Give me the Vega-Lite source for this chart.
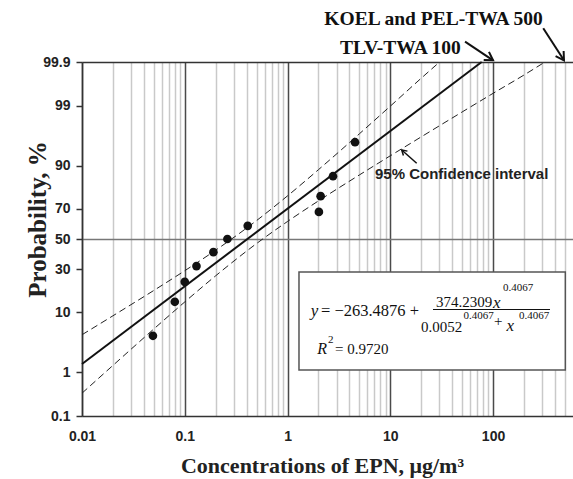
{
  "$schema": "https://vega.github.io/schema/vega-lite/v6.json",
  "width": 491,
  "height": 354,
  "autosize": {"type": "none"},
  "padding": {"left": 82, "top": 62, "right": 0, "bottom": 63},
  "background": "white",
  "config": {"view": {"stroke": null}, "font": "Liberation Sans"},
  "data": {"values": [{}]},
  "datasets": {
    "points": [
      {"conc": 0.049, "prob": 4.55},
      {"conc": 0.080, "prob": 13.64},
      {"conc": 0.10, "prob": 22.73},
      {"conc": 0.13, "prob": 31.82},
      {"conc": 0.19, "prob": 40.91},
      {"conc": 0.26, "prob": 50.0},
      {"conc": 0.41, "prob": 59.09},
      {"conc": 2.02, "prob": 68.18},
      {"conc": 2.10, "prob": 77.27},
      {"conc": 2.77, "prob": 86.36},
      {"conc": 4.54, "prob": 95.45}
    ],
    "fit": [
      {"conc": 0.01, "prob": 1.456},
      {"conc": 77.5, "prob": 99.9}
    ],
    "ci": [
      {"band": "upper", "conc": 0.01, "prob": 4.73},
      {"band": "upper", "conc": 0.02, "prob": 9.0},
      {"band": "upper", "conc": 0.05, "prob": 18.46},
      {"band": "upper", "conc": 0.1, "prob": 28.98},
      {"band": "upper", "conc": 0.2, "prob": 42.27},
      {"band": "upper", "conc": 0.5, "prob": 62.63},
      {"band": "upper", "conc": 1, "prob": 77.43},
      {"band": "upper", "conc": 2, "prob": 88.69},
      {"band": "upper", "conc": 5, "prob": 96.68},
      {"band": "upper", "conc": 10, "prob": 98.98},
      {"band": "upper", "conc": 20, "prob": 99.75},
      {"band": "upper", "conc": 30.2, "prob": 99.9},
      {"band": "lower", "conc": 0.01, "prob": 0.355},
      {"band": "lower", "conc": 0.02, "prob": 1.365},
      {"band": "lower", "conc": 0.05, "prob": 5.81},
      {"band": "lower", "conc": 0.1, "prob": 13.59},
      {"band": "lower", "conc": 0.2, "prob": 26.04},
      {"band": "lower", "conc": 0.5, "prob": 46.85},
      {"band": "lower", "conc": 1, "prob": 62.02},
      {"band": "lower", "conc": 2, "prob": 74.7},
      {"band": "lower", "conc": 5, "prob": 86.82},
      {"band": "lower", "conc": 10, "prob": 92.68},
      {"band": "lower", "conc": 20, "prob": 96.27},
      {"band": "lower", "conc": 50, "prob": 98.67},
      {"band": "lower", "conc": 100, "prob": 99.45},
      {"band": "lower", "conc": 200, "prob": 99.79},
      {"band": "lower", "conc": 320, "prob": 99.9}
    ]
  },
  "layer": [
    {
      "data": {"name": "fit"},
      "transform": [{"calculate": "quantileNormal(datum.prob/100)", "as": "z"}],
      "mark": {"type": "line", "color": "#111", "strokeWidth": 2},
      "encoding": {
        "x": {
          "field": "conc", "type": "quantitative",
          "scale": {"type": "log", "domain": [0.01, 600], "nice": false},
          "axis": {
            "values": [0.01,0.02,0.03,0.04,0.05,0.06,0.07,0.08,0.09,0.1,0.2,0.3,0.4,0.5,0.6,0.7,0.8,0.9,1,2,3,4,5,6,7,8,9,10,20,30,40,50,60,70,80,90,100,200,300,400,500],
            "labelExpr": "datum.value == 0.01 ? '0.01' : datum.value == 0.1 ? '0.1' : datum.value == 1 ? '1' : datum.value == 10 ? '10' : datum.value == 100 ? '100' : ''",
            "labelOverlap": false,
            "labelFlush": false,
            "grid": true,
            "gridColor": {"condition": {"test": "datum.value == 0.01 || datum.value == 0.1 || datum.value == 1 || datum.value == 10 || datum.value == 100", "value": "#4a4a4a"}, "value": "#c9c9c9"},
            "gridWidth": 1.5,
            "ticks": false,
            "domainColor": "#333",
            "domainWidth": 1.5,
            "labelFont": "Liberation Sans",
            "labelFontWeight": "bold",
            "labelFontSize": 14,
            "labelColor": "#222",
            "labelPadding": 13,
            "title": "Concentrations of EPN, μg/m³",
            "titleFont": "Liberation Serif",
            "titleFontSize": 22,
            "titleFontWeight": "bold",
            "titleColor": "#222",
            "titleX": 240,
            "titleY": 56,
            "titleBaseline": "alphabetic"
          }
        },
        "y": {
          "field": "z", "type": "quantitative",
          "scale": {"domain": [-3.0902, 3.0902], "nice": false, "zero": false},
          "axis": {
            "values": [-3.0902, -2.3263, -1.2816, -0.5244, 0, 0.5244, 1.2816, 2.3263, 3.0902],
            "labelExpr": "datum.value < -3 ? '0.1' : datum.value < -2 ? '1' : datum.value < -1 ? '10' : datum.value < -0.3 ? '30' : datum.value < 0.3 ? '50' : datum.value < 1 ? '70' : datum.value < 2 ? '90' : datum.value < 3 ? '99' : '99.9'",
            "labelOverlap": false,
            "labelFlush": false,
            "grid": true,
            "gridColor": {"condition": {"test": "datum.value == 0", "value": "#777"}, "value": "#333"},
            "gridOpacity": {"condition": {"test": "datum.value == 0 || datum.value > 3", "value": 1}, "value": 0},
            "gridWidth": 1.5,
            "tickSize": 6,
            "tickColor": "#333",
            "tickWidth": 1.5,
            "domainColor": "#333",
            "domainWidth": 1.5,
            "labelFont": "Liberation Sans",
            "labelFontWeight": "bold",
            "labelFontSize": 14,
            "labelColor": "#222",
            "labelPadding": 6,
            "title": "Probability, %",
            "titleFont": "Liberation Serif",
            "titleFontSize": 25,
            "titleFontWeight": "bold",
            "titleColor": "#222",
            "titleX": -45,
            "titleY": 157,
            "titleBaseline": "middle"
          }
        }
      }
    },
    {
      "data": {"name": "ci"},
      "transform": [{"calculate": "quantileNormal(datum.prob/100)", "as": "z"}],
      "mark": {"type": "line", "color": "#222", "strokeWidth": 1, "strokeDash": [7, 4], "interpolate": "monotone"},
      "encoding": {
        "x": {"field": "conc", "type": "quantitative"},
        "y": {"field": "z", "type": "quantitative"},
        "detail": {"field": "band"}
      }
    },
    {
      "data": {"name": "points"},
      "transform": [{"calculate": "quantileNormal(datum.prob/100)", "as": "z"}],
      "mark": {"type": "point", "filled": true, "color": "#111", "opacity": 1, "size": 75},
      "encoding": {
        "x": {"field": "conc", "type": "quantitative"},
        "y": {"field": "z", "type": "quantitative"}
      }
    },
    {
      "mark": {"type": "rect", "fill": "white", "stroke": "#555", "strokeWidth": 1.5},
      "encoding": {
        "x": {"datum": 1.293, "type": "quantitative"},
        "x2": {"datum": 505},
        "y": {"datum": -0.576, "type": "quantitative"},
        "y2": {"datum": -2.287}
      }
    },
    {
      "mark": {"type": "rule", "color": "#111", "strokeWidth": 1},
      "encoding": {
        "x": {"datum": 26.04, "type": "quantitative"},
        "x2": {"datum": 358.4},
        "y": {"datum": -1.2309, "type": "quantitative"},
        "y2": {"datum": -1.2309}
      }
    },
    {
      "mark": {"type": "text", "text": "y", "font": "Liberation Serif", "fontStyle": "italic", "fontSize": 17, "align": "left", "baseline": "alphabetic", "color": "#111"},
      "encoding": {"x": {"datum": 1.681, "type": "quantitative"}, "y": {"datum": -1.3444, "type": "quantitative"}}
    },
    {
      "mark": {"type": "text", "text": "= −263.4876 +", "font": "Liberation Serif", "fontSize": 16.5, "align": "left", "baseline": "alphabetic", "color": "#111"},
      "encoding": {"x": {"datum": 2.118, "type": "quantitative"}, "y": {"datum": -1.3444, "type": "quantitative"}}
    },
    {
      "mark": {"type": "text", "text": "374.2309", "font": "Liberation Serif", "fontSize": 15, "align": "left", "baseline": "alphabetic", "color": "#111"},
      "encoding": {"x": {"datum": 27.86, "type": "quantitative"}, "y": {"datum": -1.182, "type": "quantitative"}}
    },
    {
      "mark": {"type": "text", "text": "x", "font": "Liberation Serif", "fontStyle": "italic", "fontSize": 17, "align": "left", "baseline": "alphabetic", "color": "#111"},
      "encoding": {"x": {"datum": 99.9, "type": "quantitative"}, "y": {"datum": -1.2047, "type": "quantitative"}}
    },
    {
      "mark": {"type": "text", "text": "0.4067", "font": "Liberation Serif", "fontSize": 11, "align": "left", "baseline": "alphabetic", "color": "#111"},
      "encoding": {"x": {"datum": 125, "type": "quantitative"}, "y": {"datum": -0.903, "type": "quantitative"}}
    },
    {
      "mark": {"type": "text", "text": "0.0052", "font": "Liberation Serif", "fontSize": 15, "align": "left", "baseline": "alphabetic", "color": "#111"},
      "encoding": {"x": {"datum": 19.91, "type": "quantitative"}, "y": {"datum": -1.6185, "type": "quantitative"}}
    },
    {
      "mark": {"type": "text", "text": "0.4067", "font": "Liberation Serif", "fontSize": 11, "align": "left", "baseline": "alphabetic", "color": "#111"},
      "encoding": {"x": {"datum": 51.59, "type": "quantitative"}, "y": {"datum": -1.3881, "type": "quantitative"}}
    },
    {
      "mark": {"type": "text", "text": "+", "font": "Liberation Serif", "fontSize": 15, "align": "left", "baseline": "alphabetic", "color": "#111"},
      "encoding": {"x": {"datum": 102.2, "type": "quantitative"}, "y": {"datum": -1.519, "type": "quantitative"}}
    },
    {
      "mark": {"type": "text", "text": "x", "font": "Liberation Serif", "fontStyle": "italic", "fontSize": 17, "align": "left", "baseline": "alphabetic", "color": "#111"},
      "encoding": {"x": {"datum": 135.2, "type": "quantitative"}, "y": {"datum": -1.6063, "type": "quantitative"}}
    },
    {
      "mark": {"type": "text", "text": "0.4067", "font": "Liberation Serif", "fontSize": 11, "align": "left", "baseline": "alphabetic", "color": "#111"},
      "encoding": {"x": {"datum": 178.9, "type": "quantitative"}, "y": {"datum": -1.3881, "type": "quantitative"}}
    },
    {
      "mark": {"type": "text", "text": "R", "font": "Liberation Serif", "fontStyle": "italic", "fontSize": 16, "align": "left", "baseline": "alphabetic", "color": "#111"},
      "encoding": {"x": {"datum": 1.949, "type": "quantitative"}, "y": {"datum": -2.0078, "type": "quantitative"}}
    },
    {
      "mark": {"type": "text", "text": "2", "font": "Liberation Serif", "fontSize": 11, "align": "left", "baseline": "alphabetic", "color": "#111"},
      "encoding": {"x": {"datum": 2.477, "type": "quantitative"}, "y": {"datum": -1.8158, "type": "quantitative"}}
    },
    {
      "mark": {"type": "text", "text": "= 0.9720", "font": "Liberation Serif", "fontSize": 15, "align": "left", "baseline": "alphabetic", "color": "#111"},
      "encoding": {"x": {"datum": 2.897, "type": "quantitative"}, "y": {"datum": -2.0078, "type": "quantitative"}}
    },
    {
      "mark": {"type": "text", "text": "95% Confidence interval", "font": "Liberation Sans", "fontWeight": "bold", "fontSize": 15, "align": "left", "baseline": "alphabetic", "color": "#222"},
      "encoding": {"x": {"datum": 7.1, "type": "quantitative"}, "y": {"datum": 1.0475, "type": "quantitative"}}
    },
    {
      "mark": {"type": "text", "text": "KOEL and PEL-TWA 500", "font": "Liberation Serif", "fontWeight": "bold", "fontSize": 19.5, "align": "left", "baseline": "alphabetic", "color": "#111"},
      "encoding": {"x": {"datum": 2.28, "type": "quantitative"}, "y": {"datum": 3.736, "type": "quantitative"}}
    },
    {
      "mark": {"type": "text", "text": "TLV-TWA 100", "font": "Liberation Serif", "fontWeight": "bold", "fontSize": 19.5, "align": "left", "baseline": "alphabetic", "color": "#111"},
      "encoding": {"x": {"datum": 3.241, "type": "quantitative"}, "y": {"datum": 3.23, "type": "quantitative"}}
    },
    {
      "mark": {"type": "rule", "color": "#111", "strokeWidth": 2},
      "encoding": {
        "x": {"datum": 53.4, "type": "quantitative"},
        "x2": {"datum": 100},
        "y": {"datum": 3.4446, "type": "quantitative"},
        "y2": {"datum": 3.12}
      }
    },
    {
      "mark": {"type": "rule", "color": "#111", "strokeWidth": 2},
      "encoding": {
        "x": {"datum": 308, "type": "quantitative"},
        "x2": {"datum": 490},
        "y": {"datum": 3.6786, "type": "quantitative"},
        "y2": {"datum": 3.12}
      }
    },
    {
      "mark": {"type": "rule", "color": "#111", "strokeWidth": 1.5},
      "encoding": {
        "x": {"datum": 18.07, "type": "quantitative"},
        "x2": {"datum": 12.92},
        "y": {"datum": 1.3216, "type": "quantitative"},
        "y2": {"datum": 1.5538}
      }
    },
    {
      "mark": {"type": "point", "shape": "M -1 -0.6 L 0 0 L -1 0.6", "filled": false, "stroke": "#111", "strokeWidth": 2, "size": 256, "angle": 33, "opacity": 1},
      "encoding": {"x": {"datum": 100, "type": "quantitative"}, "y": {"datum": 3.12, "type": "quantitative"}}
    },
    {
      "mark": {"type": "point", "shape": "M -1 -0.6 L 0 0 L -1 0.6", "filled": false, "stroke": "#111", "strokeWidth": 2, "size": 256, "angle": 57, "opacity": 1},
      "encoding": {"x": {"datum": 490, "type": "quantitative"}, "y": {"datum": 3.12, "type": "quantitative"}}
    },
    {
      "mark": {"type": "point", "shape": "M -1 -0.6 L 0 0 L -1 0.6", "filled": false, "stroke": "#111", "strokeWidth": 1.5, "size": 100, "angle": 222, "opacity": 1},
      "encoding": {"x": {"datum": 12.92, "type": "quantitative"}, "y": {"datum": 1.5538, "type": "quantitative"}}
    }
  ]
}
